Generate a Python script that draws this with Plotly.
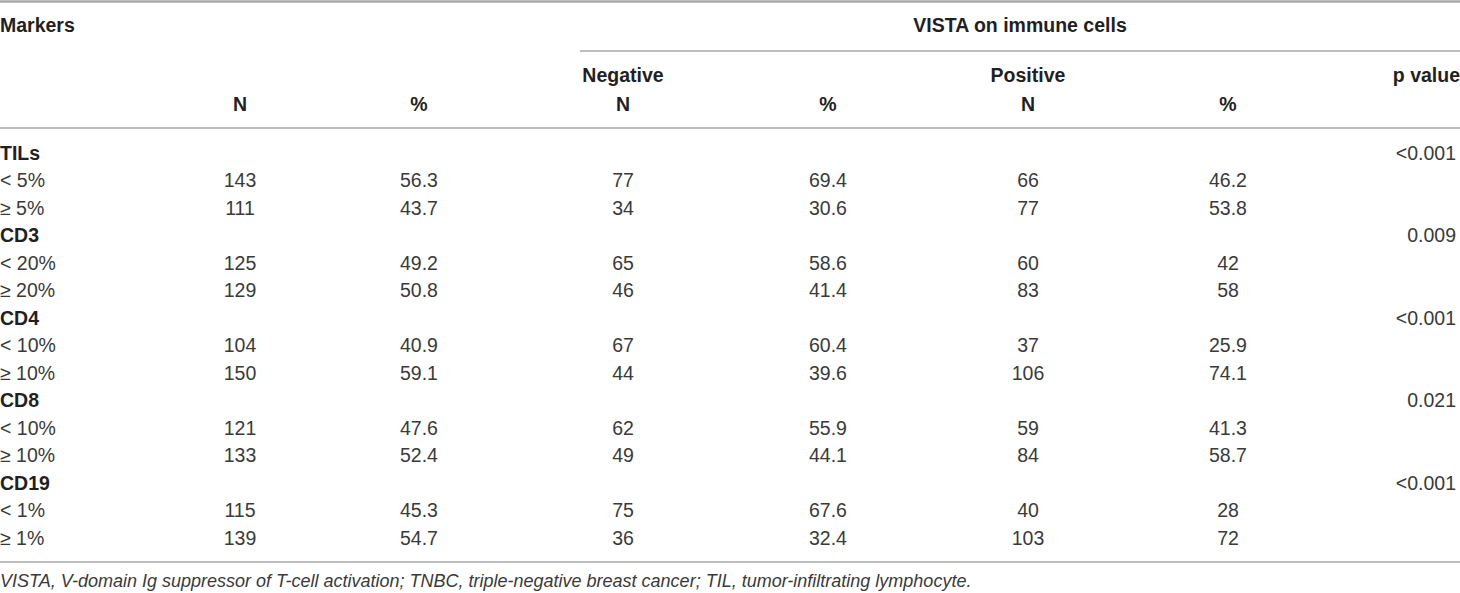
import plotly.graph_objects as go

# table content
markers = ["TILs", "CD3", "CD4", "CD8", "CD19"]
levels = [["< 5%", "≥ 5%"], ["< 20%", "≥ 20%"], ["< 10%", "≥ 10%"],
          ["< 10%", "≥ 10%"], ["< 1%", "≥ 1%"]]
p_values = ["<0.001", "0.009", "<0.001", "0.021", "<0.001"]

total_n = [143, 111, 125, 129, 104, 150, 121, 133, 115, 139]
total_pct = [56.3, 43.7, 49.2, 50.8, 40.9, 59.1, 47.6, 52.4, 45.3, 54.7]
neg_n = [77, 34, 65, 46, 67, 44, 62, 49, 75, 36]
neg_pct = [69.4, 30.6, 58.6, 41.4, 60.4, 39.6, 55.9, 44.1, 67.6, 32.4]
pos_n = [66, 77, 60, 83, 37, 106, 59, 84, 40, 103]
pos_pct = [46.2, 53.8, 42, 58, 25.9, 74.1, 41.3, 58.7, 28, 72]

footnote = ("VISTA, V-domain Ig suppressor of T-cell activation; TNBC, "
            "triple-negative breast cancer; TIL, tumor-infiltrating lymphocyte.")

W, H = 1460, 593
FONT = "Liberation Sans, Arial, Helvetica, sans-serif"
BOLD_C = "#231f20"
TEXT_C = "#3a3a3a"
RULE_C = "#a9a9a9"
FS = 19.5

# column anchors (pixels)
col_label = 0
col_n, col_pct = 240, 419
col_neg_n, col_neg_pct = 623, 828
col_pos_n, col_pos_pct = 1028, 1228
col_p = 1456

body_top, row_h = 155, 27.5

# build the body rows
group_y, level_y = [], []
i = 0
for g in range(len(markers)):
  group_y.append(body_top + i * row_h)
  i += 1
  for _ in levels[g]:
    level_y.append(body_top + i * row_h)
    i += 1
level_labels = [lv for pair in levels for lv in pair]

def fmt(v):
  return f"{v:g}"

fig = go.Figure()

def add_text(x, y, text, pos, bold=False, size=FS, color=None, italic=False):
  fig.add_trace(go.Scatter(
    x=x, y=y, text=text, mode="text", textposition=pos,
    marker=dict(size=0),
    textfont=dict(family=FONT, size=size,
                  color=color or (BOLD_C if bold else TEXT_C),
                  weight="bold" if bold else "normal",
                  style="italic" if italic else "normal"),
    hoverinfo="skip", showlegend=False, cliponaxis=False,
  ))

# header
add_text([col_label], [27], ["Markers"], "middle right", bold=True)
add_text([(580 + W) / 2], [27], ["VISTA on immune cells"], "middle center", bold=True)
add_text([col_neg_n, col_pos_n], [77, 77], ["Negative", "Positive"], "middle center", bold=True)
add_text([W], [77], ["p value"], "middle left", bold=True)
add_text([col_n, col_pct, col_neg_n, col_neg_pct, col_pos_n, col_pos_pct], [106] * 6,
         ["N", "%", "N", "%", "N", "%"], "middle center", bold=True)

# body
add_text([col_label] * len(markers), group_y, markers, "middle right", bold=True)
add_text([col_p] * len(p_values), group_y, p_values, "middle left")
add_text([col_label] * len(level_labels), level_y, level_labels, "middle right")
for col, vals in [(col_n, total_n), (col_pct, total_pct), (col_neg_n, neg_n),
                  (col_neg_pct, neg_pct), (col_pos_n, pos_n), (col_pos_pct, pos_pct)]:
  add_text([col] * len(vals), level_y, [fmt(v) for v in vals], "middle center")

# footnote
add_text([col_label], [582], [footnote], "middle right", size=18, italic=True)

# rules
fig.add_shape(type="line", x0=0, x1=W, y0=1.5, y1=1.5, line=dict(color=RULE_C, width=2.5))
fig.add_shape(type="line", x0=580, x1=W, y0=51, y1=51, line=dict(color=RULE_C, width=1.5))
fig.add_shape(type="line", x0=0, x1=W, y0=128, y1=128, line=dict(color=RULE_C, width=1.5))
fig.add_shape(type="line", x0=0, x1=W, y0=562, y1=562, line=dict(color=RULE_C, width=1.5))

fig.update_layout(
  width=W, height=H,
  margin=dict(l=0, r=0, t=0, b=0),
  paper_bgcolor="white", plot_bgcolor="white",
  xaxis=dict(range=[0, W], visible=False, fixedrange=True),
  yaxis=dict(range=[H, 0], visible=False, fixedrange=True),
)

# drop the page's default body margin so the figure fills the window
fig.write_html("out.html", config={"displayModeBar": False},
               post_script="document.body.style.margin='0';document.body.style.overflow='hidden';")
